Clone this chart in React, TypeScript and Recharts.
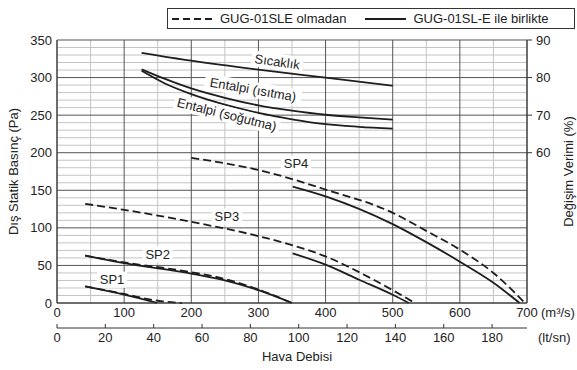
import {
  LineChart,
  Line,
  XAxis,
  YAxis,
  CartesianGrid,
  ReferenceDot,
  Legend,
  Label,
} from 'recharts'

type Pt = [number, number]

// bottom axis: air flow (m³/h), second scale in l/s; left: Pa, right: %
const FLOW_TICKS = [0, 100, 200, 300, 400, 500, 600, 700]
const LS_TICKS = [0, 20, 40, 60, 80, 100, 120, 140, 160, 180]
const PA_TICKS = [0, 50, 100, 150, 200, 250, 300, 350]
const PCT_TICKS = [60, 70, 80, 90]

// external static pressure curves [flow, Pa]
const sp1With: Pt[] = [[42, 22], [100, 11], [149, 0]]
const sp1Without: Pt[] = [[42, 22], [100, 12], [150, 3], [186, 0]]
const sp2With: Pt[] = [[42, 63], [100, 53], [200, 39], [250, 30], [300, 17], [350, 0]]
const sp2Without: Pt[] = [[42, 63], [100, 54], [200, 41], [250, 32], [300, 18], [350, 0]]
const sp3With: Pt[] = [[351, 66], [400, 51], [450, 31], [500, 11], [524, 0]]
const sp3Without: Pt[] = [[42, 132], [100, 124], [200, 108], [300, 89], [350, 77], [400, 62], [450, 41], [500, 17], [533, 0]]
const sp4With: Pt[] = [[351, 155], [400, 142], [500, 105], [550, 81], [600, 55], [650, 27], [689, 0]]
const sp4Without: Pt[] = [[200, 193], [250, 186], [300, 177], [400, 151], [500, 120], [550, 96], [600, 71], [650, 40], [697, 0]]

// exchange efficiency curves [flow, %]
const effTemp: Pt[] = [[126, 86.6], [200, 84.5], [300, 82.1], [400, 80.0], [500, 77.8]]
const effEnthHeat: Pt[] = [[126, 82.2], [160, 79.7], [200, 77.1], [250, 74.6], [300, 72.6], [350, 71.2], [400, 70.1], [450, 69.4], [500, 68.8]]
const effEnthCool: Pt[] = [[126, 81.8], [160, 78.5], [200, 75.6], [250, 72.8], [300, 70.6], [350, 68.9], [400, 67.6], [450, 66.9], [500, 66.4]]

const LEGEND_WITHOUT = 'GUG-01SLE olmadan'
const LEGEND_WITH = 'GUG-01SL-E ile birlikte'

const rows = (pts: Pt[]) => pts.map(([x, y]) => ({ x, y }))

const SERIES = [
  { id: 'sp1-w', pts: sp1With, dashed: false, axis: 'pa' },
  { id: 'sp1-wo', pts: sp1Without, dashed: true, axis: 'pa' },
  { id: 'sp2-w', pts: sp2With, dashed: false, axis: 'pa' },
  { id: 'sp2-wo', pts: sp2Without, dashed: true, axis: 'pa' },
  { id: 'sp3-w', pts: sp3With, dashed: false, axis: 'pa' },
  { id: 'sp3-wo', pts: sp3Without, dashed: true, axis: 'pa' },
  { id: 'sp4-w', pts: sp4With, dashed: false, axis: 'pa' },
  { id: 'sp4-wo', pts: sp4Without, dashed: true, axis: 'pa' },
  { id: 'eff-t', pts: effTemp, dashed: false, axis: 'pct' },
  { id: 'eff-h', pts: effEnthHeat, dashed: false, axis: 'pct' },
  { id: 'eff-c', pts: effEnthCool, dashed: false, axis: 'pct' },
]

// curve names, placed in flow / Pa coordinates
const TAGS: { text: string; at: Pt; angle: number; w: number }[] = [
  { text: 'Sıcaklık', at: [328, 321], angle: 8, w: 52 },
  { text: 'Entalpi (ısıtma)', at: [292, 284], angle: 10, w: 98 },
  { text: 'Entalpi (soğutma)', at: [253, 251], angle: 14, w: 108 },
  { text: 'SP4', at: [356, 185], angle: 0, w: 30 },
  { text: 'SP3', at: [253, 115], angle: 0, w: 30 },
  { text: 'SP2', at: [150, 65], angle: 0, w: 30 },
  { text: 'SP1', at: [82, 31], angle: 0, w: 30 },
]

const INK = '#1e1e1e'
const TEXT = '#222'
const FONT = '"Liberation Sans", Arial, sans-serif'

const minorH: number[] = []
for (let v = 10; v < 350; v += 10) if (v % 50 !== 0) minorH.push(v)
const minorV = [50, 150, 250, 350, 450, 550, 650]
const majorH = PA_TICKS
const majorV = FLOW_TICKS

function LegendBox() {
  return (
    <div
      style={{
        boxSizing: 'border-box',
        width: 408,
        height: 21,
        border: '1px solid #333',
        background: '#fff',
        display: 'flex',
        alignItems: 'center',
        fontSize: 13,
        color: TEXT,
        fontFamily: FONT,
        whiteSpace: 'nowrap',
      }}
    >
      <svg width={44} height={4} style={{ marginLeft: 4 }}>
        <line x1={0} x2={44} y1={2} y2={2} stroke={INK} strokeWidth={1.8} strokeDasharray="7 4" />
      </svg>
      <span style={{ marginLeft: 4 }}>{LEGEND_WITHOUT}</span>
      <svg width={41} height={4} style={{ marginLeft: 19 }}>
        <line x1={0} x2={41} y1={2} y2={2} stroke={INK} strokeWidth={1.8} />
      </svg>
      <span style={{ marginLeft: 7 }}>{LEGEND_WITH}</span>
    </div>
  )
}

function Tag({ cx, cy, text, angle, w }: { cx: number; cy: number; text: string; angle: number; w: number }) {
  return (
    <g transform={`translate(${cx},${cy}) rotate(${angle})`}>
      <rect x={-w / 2} y={-8} width={w} height={16} fill="#fff" />
      <text textAnchor="middle" dominantBaseline="central" fontSize={13} fill={TEXT} fontFamily={FONT}>
        {text}
      </text>
    </g>
  )
}

function LsTick({ x, y, payload }: any) {
  return (
    <g>
      <line x1={x} x2={x} y1={y - 9} y2={y - 5} stroke="#333" />
      <text x={x} y={y} dy="0.71em" textAnchor="middle" fontSize={13} fill={TEXT}>
        {payload.value}
      </text>
    </g>
  )
}

const sideTitle = (text: string, dx: (vb: any) => number) => (props: any) => {
  const vb = props.viewBox
  const x = dx(vb)
  const y = vb.y + vb.height / 2
  return (
    <text
      x={x}
      y={y}
      transform={`rotate(-90 ${x} ${y})`}
      textAnchor="middle"
      dominantBaseline="central"
      fontSize={13}
      fill={TEXT}
    >
      {text}
    </text>
  )
}

export default function App() {
  const tick = { fontSize: 13, fill: TEXT }
  return (
    <div style={{ fontFamily: FONT }}>
      <style>{'body{margin:0}'}</style>
      <LineChart width={577} height={370} margin={{ top: 40, right: 0, left: 0, bottom: 0 }}>
        <XAxis
          xAxisId="flow"
          dataKey="x"
          type="number"
          domain={[0, 700]}
          ticks={FLOW_TICKS}
          interval={0}
          height={25}
          tick={tick}
          tickLine={false}
          tickSize={0}
          tickMargin={5}
          axisLine={{ stroke: '#333' }}
        >
          <Label
            content={(p: any) => (
              <text x={p.viewBox.x + p.viewBox.width + 14} y={p.viewBox.y + 5} dy="0.71em" fontSize={13} fill={TEXT}>
                (m³/s)
              </text>
            )}
          />
        </XAxis>
        <XAxis
          xAxisId="litres"
          dataKey="x"
          type="number"
          domain={[0, 700 / 3.6]}
          allowDataOverflow
          ticks={LS_TICKS}
          interval={0}
          height={42}
          tick={<LsTick />}
          tickLine={false}
          tickSize={0}
          tickMargin={5}
          axisLine={{ stroke: '#333' }}
        >
          <Label
            content={(p: any) => (
              <g>
                <text x={p.viewBox.x + p.viewBox.width + 11} y={p.viewBox.y + 5} dy="0.71em" fontSize={13} fill={TEXT}>
                  (lt/sn)
                </text>
                <text x={p.viewBox.x + p.viewBox.width / 2 + 5} y={p.viewBox.y + 24} dy="0.71em" textAnchor="middle" fontSize={13} fill={TEXT}>
                  Hava Debisi
                </text>
              </g>
            )}
          />
        </XAxis>
        <YAxis
          yAxisId="pa"
          type="number"
          domain={[0, 350]}
          ticks={PA_TICKS}
          interval={0}
          width={57}
          tick={tick}
          tickLine={false}
          tickSize={0}
          tickMargin={5}
          axisLine={{ stroke: '#333' }}
          label={{ content: sideTitle('Dış Statik Basınç (Pa)', vb => vb.x + 13) }}
        />
        <YAxis
          yAxisId="pct"
          orientation="right"
          type="number"
          domain={[20, 90]}
          ticks={PCT_TICKS}
          interval={0}
          width={50}
          tick={tick}
          tickLine={{ stroke: '#333' }}
          tickSize={5}
          tickMargin={4}
          axisLine={{ stroke: '#333' }}
          label={{ content: sideTitle('Değişim Verimi (%)', vb => vb.x + vb.width - 9) }}
        />
        <CartesianGrid
          xAxisId="flow"
          yAxisId="pa"
          horizontalValues={minorH}
          verticalValues={minorV}
          stroke="#c4c4c4"
          fill="none"
        />
        <CartesianGrid
          xAxisId="flow"
          yAxisId="pa"
          horizontalValues={majorH}
          verticalValues={majorV}
          stroke="#555"
          fill="none"
        />
        {TAGS.map(t => (
          <ReferenceDot
            key={t.text}
            xAxisId="flow"
            yAxisId="pa"
            x={t.at[0]}
            y={t.at[1]}
            r={0}
            shape={(p: any) => <Tag cx={p.cx} cy={p.cy} text={t.text} angle={t.angle} w={t.w} />}
          />
        ))}
        {SERIES.map(s => (
          <Line
            key={s.id}
            data={rows(s.pts)}
            dataKey="y"
            xAxisId="flow"
            yAxisId={s.axis}
            type="monotone"
            stroke={INK}
            strokeWidth={1.8}
            strokeDasharray={s.dashed ? '8 4' : undefined}
            dot={false}
            activeDot={false}
            isAnimationActive={false}
          />
        ))}
        <Legend
          verticalAlign="middle"
          align="center"
          wrapperStyle={{ top: 8, left: 167, width: 408 }}
          content={() => <LegendBox />}
        />
      </LineChart>
    </div>
  )
}
